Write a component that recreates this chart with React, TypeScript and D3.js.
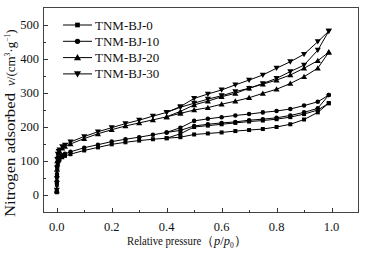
import React from "react";
import * as d3 from "d3";

const seriesNames = ["TNM-BJ-0", "TNM-BJ-10", "TNM-BJ-20", "TNM-BJ-30"];
const seriesSymbols = ["square", "circle", "triangleUp", "triangleDown"];

const pAds = [0.0002, 0.0005, 0.001, 0.002, 0.004, 0.007, 0.01, 0.02, 0.03, 0.05, 0.1, 0.15, 0.2, 0.25, 0.3, 0.35, 0.4, 0.45, 0.5, 0.55, 0.6, 0.65, 0.7, 0.75, 0.8, 0.85, 0.9, 0.95, 0.99];
const pDes = [0.99, 0.95, 0.9, 0.85, 0.8, 0.75, 0.7, 0.65, 0.6, 0.55, 0.5, 0.45, 0.4];

const ads0 = [8, 30, 55, 78, 92, 100, 104, 111, 115, 120, 131, 140, 149, 155, 160, 164, 167, 170, 178, 181, 184, 188, 191, 194, 200, 208, 222, 243, 270];
const des0 = [270, 250, 238, 229, 223, 219, 216, 212, 208, 204, 200, 180, 167];
const ads10 = [10, 35, 62, 85, 99, 106, 110, 117, 121, 127, 139, 148, 157, 164, 170, 177, 184, 190, 203, 208, 212, 215, 220, 223, 227, 234, 243, 255, 294];
const des10 = [294, 274, 263, 253, 247, 243, 238, 234, 229, 224, 218, 198, 184];
const ads20 = [12, 45, 75, 100, 115, 124, 129, 138, 143, 150, 166, 180, 192, 203, 212, 221, 230, 240, 250, 257, 267, 276, 286, 299, 311, 328, 348, 373, 420];
const des20 = [420, 395, 373, 353, 338, 326, 314, 299, 289, 276, 265, 246, 230];
const ads30 = [14, 48, 80, 105, 120, 128, 133, 142, 147, 156, 172, 186, 198, 210, 220, 232, 243, 258, 270, 282, 292, 304, 314, 328, 343, 363, 382, 426, 482];
const des30 = [482, 451, 414, 392, 373, 353, 338, 324, 309, 297, 284, 260, 243];

const adsValues = [ads0, ads10, ads20, ads30];
const desValues = [des0, des10, des20, des30];

const xMajorTicks = [0, 0.2, 0.4, 0.6, 0.8, 1.0];
const xMinorTicks = [0.1, 0.3, 0.5, 0.7, 0.9];
const yMajorTicks = [0, 100, 200, 300, 400, 500];
const yMinorTicks = [50, 150, 250, 350, 450];

const FONT = "'Liberation Serif', 'Times New Roman', serif";

function symbolPath(kind: string, size: number) {
  const t =
    kind === "square" ? d3.symbolSquare : kind === "circle" ? d3.symbolCircle : d3.symbolTriangle;
  return d3.symbol().type(t).size(size)() as string;
}

export default function App() {
  const W = 367, H = 253;
  const L = 43, R = 359, T = 7, B = 213;
  const x = d3.scaleLinear().domain([-0.05, 1.1]).range([L, R]);
  const y = d3.scaleLinear().domain([-53, 553]).range([B, T]);
  const line = d3.line<[number, number]>().x((d) => x(d[0])).y((d) => y(d[1]));

  const marker = (kind: string, cx: number, cy: number, size: number, key: string) => {
    const rot = kind === "triangleDown" ? 180 : 0;
    const dy = kind === "triangleUp" ? 0.6 : kind === "triangleDown" ? -0.6 : 0;
    return (
      <path
        key={key}
        d={symbolPath(kind, size)}
        transform={`translate(${cx},${cy + dy}) rotate(${rot})`}
        fill="#000"
      />
    );
  };

  return (
    <svg width={W} height={H} style={{ position: "absolute", left: 0, top: 0 }}>
      <rect x={0} y={0} width={W} height={H} fill="#fff" />
      {/* frame */}
      <rect x={L + 0.5} y={T + 0.5} width={R - L - 1} height={B - T - 1} fill="none" stroke="#444" strokeWidth={1} />
      {/* x ticks */}
      {xMajorTicks.map((t) => (
        <line key={"xM" + t} x1={Math.round(x(t)) + 0.5} x2={Math.round(x(t)) + 0.5} y1={B} y2={B - 5} stroke="#333" />
      ))}
      {xMinorTicks.map((t) => (
        <line key={"xm" + t} x1={Math.round(x(t)) + 0.5} x2={Math.round(x(t)) + 0.5} y1={B} y2={B - 3} stroke="#333" />
      ))}
      {yMajorTicks.map((t) => (
        <line key={"yM" + t} x1={L} x2={L + 5} y1={Math.round(y(t)) + 0.5} y2={Math.round(y(t)) + 0.5} stroke="#333" />
      ))}
      {yMinorTicks.map((t) => (
        <line key={"ym" + t} x1={L} x2={L + 3} y1={Math.round(y(t)) + 0.5} y2={Math.round(y(t)) + 0.5} stroke="#333" />
      ))}
      {/* tick labels */}
      {xMajorTicks.map((t) => (
        <text key={"xl" + t} x={x(t)} y={231} textAnchor="middle" fontFamily={FONT} fontSize={12.5} fill="#111">
          {d3.format(".1f")(t)}
        </text>
      ))}
      {yMajorTicks.map((t) => (
        <text key={"yl" + t} x={39} y={y(t) + 4.3} textAnchor="end" fontFamily={FONT} fontSize={12.5} fill="#111">
          {t}
        </text>
      ))}
      {/* x axis title */}
      <g transform="translate(127,245) scale(0.86,1)">
        <text x={0} y={0} fontFamily={FONT} fontSize={12.5} fill="#111">
          Relative pressure
        </text>
      </g>
      <g transform="translate(201,245)">
        <text x={0} y={0} fontFamily={FONT} fontSize={12.5} fill="#111">
          （<tspan fontStyle="italic">p</tspan>/<tspan fontStyle="italic">p</tspan>
          <tspan fontSize={7.5} dy={2.5}>0</tspan>
          <tspan dy={-2.5}>）</tspan>
        </text>
      </g>
      {/* y axis title */}
      <text
        transform="translate(15,217) rotate(-90)"
        fontFamily={FONT}
        fontSize={14.5}
        fill="#111"
        textLength={124}
        lengthAdjust="spacingAndGlyphs"
      >
        Nitrogen adsorbed
      </text>
      <text transform="translate(15,86) rotate(-90)" fontFamily={FONT} fontSize={13} fill="#111">
        <tspan fontStyle="italic">v</tspan>/(cm
        <tspan fontSize={7.5} dy={-5}>3</tspan>
        <tspan dy={5}>·g</tspan>
        <tspan fontSize={7.5} dy={-5}>−1</tspan>
        <tspan dy={5}>)</tspan>
      </text>
      {/* series */}
      {seriesNames.map((name, i) => {
        const ads: [number, number][] = pAds.map((p, j) => [p, adsValues[i][j]]);
        const des: [number, number][] = pDes.map((p, j) => [p, desValues[i][j]]);
        return (
          <g key={name}>
            <path d={line(ads) as string} fill="none" stroke="#000" strokeWidth={1} />
            <path d={line(des) as string} fill="none" stroke="#000" strokeWidth={1} />
            {ads.map((d, j) => marker(seriesSymbols[i], x(d[0]), y(d[1]), 16, name + "a" + j))}
            {des.map((d, j) => marker(seriesSymbols[i], x(d[0]), y(d[1]), 16, name + "d" + j))}
          </g>
        );
      })}
      {/* legend */}
      {seriesNames.map((name, i) => {
        const ly = 25 + i * 16.3;
        return (
          <g key={"lg" + name}>
            <line x1={63} x2={92} y1={ly} y2={ly} stroke="#000" strokeWidth={1} />
            {marker(seriesSymbols[i], 77.5, ly, 22, "lm" + i)}
            <text x={95} y={ly + 4.5} fontFamily={FONT} fontSize={13} fill="#111">
              {name}
            </text>
          </g>
        );
      })}
    </svg>
  );
}
